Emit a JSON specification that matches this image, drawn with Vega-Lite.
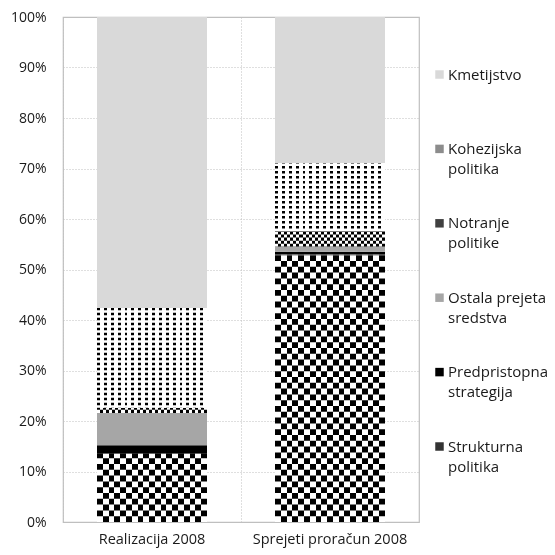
{
  "$schema": "https://vega.github.io/schema/vega-lite/v6.json",
  "width": 356,
  "height": 505,
  "autosize": {"type": "none"},
  "padding": {"left": 63, "top": 17, "right": 136, "bottom": 33},
  "background": "#ffffff",
  "config": {
    "view": {"stroke": "#bfbfbf", "strokeWidth": 1.2},
    "style": {"guide-label": {"lineHeight": 20}}
  },
  "data": {
    "values": [
      {"bar": "Realizacija 2008", "cat": "Strukturna politika", "value": 13.5},
      {"bar": "Realizacija 2008", "cat": "Predpristopna strategija", "value": 1.7},
      {"bar": "Realizacija 2008", "cat": "Ostala prejeta sredstva", "value": 6.4},
      {"bar": "Realizacija 2008", "cat": "Notranje politike", "value": 1.0},
      {"bar": "Realizacija 2008", "cat": "Kohezijska politika", "value": 19.8},
      {"bar": "Realizacija 2008", "cat": "Kmetijstvo", "value": 57.6},
      {"bar": "Sprejeti proračun 2008", "cat": "Strukturna politika", "value": 52.9},
      {"bar": "Sprejeti proračun 2008", "cat": "Predpristopna strategija", "value": 0.6},
      {"bar": "Sprejeti proračun 2008", "cat": "Ostala prejeta sredstva", "value": 1.0},
      {"bar": "Sprejeti proračun 2008", "cat": "Notranje politike", "value": 3.1},
      {"bar": "Sprejeti proračun 2008", "cat": "Kohezijska politika", "value": 13.5},
      {"bar": "Sprejeti proračun 2008", "cat": "Kmetijstvo", "value": 28.9}
    ]
  },
  "transform": [
    {"stack": "value", "groupby": ["bar"], "sort": [{"field": "cat", "order": "descending"}], "offset": "normalize", "as": ["v0", "v1"]}
  ],
  "encoding": {
    "x": {
      "field": "bar", "type": "nominal",
      "scale": {"paddingInner": 0, "paddingOuter": 0},
      "axis": {
        "title": null, "grid": true, "gridDash": [1, 2], "gridColor": "#bfbfbf",
        "bandPosition": 0, "ticks": false, "tickSize": 0, "domain": false,
        "labelAngle": 0, "labelPadding": 10, "labelFont": "Open Sans", "labelFontSize": 14.5,
        "labelColor": "#1a1a1a", "labelBaseline": "top"
      }
    },
    "y": {
      "field": "v0", "type": "quantitative",
      "scale": {"domain": [0, 1], "nice": false},
      "axis": {
        "title": null, "format": "%", "values": [0, 0.1, 0.2, 0.3, 0.4, 0.5, 0.6, 0.7, 0.8, 0.9, 1],
        "grid": true, "gridDash": [1, 2], "gridColor": "#bfbfbf", "ticks": false, "tickSize": 0,
        "domain": false, "labelPadding": 17, "labelFont": "Open Sans", "labelFontSize": 14,
        "labelColor": "#1a1a1a"
      }
    },
    "y2": {"field": "v1"}
  },
  "layer": [
    {
      "mark": {"type": "bar", "size": 110},
      "encoding": {
        "color": {
          "field": "cat", "type": "nominal",
          "scale": {
            "domain": ["Kmetijstvo", "Kohezijska politika", "Notranje politike", "Ostala prejeta sredstva", "Predpristopna strategija", "Strukturna politika"],
            "range": ["#d9d9d9", "#8c8c8c", "#404040", "#a6a6a6", "#000000", "#333333"]
          },
          "legend": {
            "orient": "none", "legendX": 369, "legendY": 50, "title": null,
            "symbolType": "square", "symbolSize": 72, "symbolStrokeWidth": 0,
            "labelFont": "Open Sans", "labelFontSize": 15, "labelColor": "#1a1a1a",
            "labelOffset": 1, "rowPadding": 38.4, "labelLimit": 300,
            "labelExpr": "datum.label == 'Kmetijstvo' ? ['Kmetijstvo', ''] : datum.label == 'Ostala prejeta sredstva' ? ['Ostala prejeta', 'sredstva'] : [split(datum.label, ' ')[0], split(datum.label, ' ')[1]]"
          }
        }
      }
    },
    {
      "transform": [{"filter": "datum.cat == 'Strukturna politika'"}],
      "mark": {
        "type": "bar", "size": 110,
        "fill": {
          "gradient": "linear", "x1": 0, "y1": 0, "x2": 1, "y2": 0,
          "stops": [
            {"offset": 0, "color": "#000"}, {"offset": 0.05263, "color": "#000"},
            {"offset": 0.05263, "color": "#fff"}, {"offset": 0.10526, "color": "#fff"},
            {"offset": 0.10526, "color": "#000"}, {"offset": 0.15789, "color": "#000"},
            {"offset": 0.15789, "color": "#fff"}, {"offset": 0.21053, "color": "#fff"},
            {"offset": 0.21053, "color": "#000"}, {"offset": 0.26316, "color": "#000"},
            {"offset": 0.26316, "color": "#fff"}, {"offset": 0.31579, "color": "#fff"},
            {"offset": 0.31579, "color": "#000"}, {"offset": 0.36842, "color": "#000"},
            {"offset": 0.36842, "color": "#fff"}, {"offset": 0.42105, "color": "#fff"},
            {"offset": 0.42105, "color": "#000"}, {"offset": 0.47368, "color": "#000"},
            {"offset": 0.47368, "color": "#fff"}, {"offset": 0.52632, "color": "#fff"},
            {"offset": 0.52632, "color": "#000"}, {"offset": 0.57895, "color": "#000"},
            {"offset": 0.57895, "color": "#fff"}, {"offset": 0.63158, "color": "#fff"},
            {"offset": 0.63158, "color": "#000"}, {"offset": 0.68421, "color": "#000"},
            {"offset": 0.68421, "color": "#fff"}, {"offset": 0.73684, "color": "#fff"},
            {"offset": 0.73684, "color": "#000"}, {"offset": 0.78947, "color": "#000"},
            {"offset": 0.78947, "color": "#fff"}, {"offset": 0.84211, "color": "#fff"},
            {"offset": 0.84211, "color": "#000"}, {"offset": 0.89474, "color": "#000"},
            {"offset": 0.89474, "color": "#fff"}, {"offset": 0.94737, "color": "#fff"},
            {"offset": 0.94737, "color": "#000"}, {"offset": 1, "color": "#000"}
          ]
        }
      }
    },
    {
      "transform": [{"filter": "datum.cat == 'Strukturna politika'"}],
      "mark": {"type": "rule", "stroke": "#ffffff", "strokeWidth": 110, "strokeDash": [5.8, 5.8], "strokeCap": "butt", "blend": "difference"}
    },
    {
      "transform": [{"filter": "datum.cat == 'Notranje politike'"}],
      "mark": {
        "type": "bar", "size": 110,
        "fill": {
          "gradient": "linear", "x1": 0, "y1": 0, "x2": 1, "y2": 0,
          "stops": [
            {"offset": 0, "color": "#000"}, {"offset": 0.02778, "color": "#000"},
            {"offset": 0.02778, "color": "#fff"}, {"offset": 0.05556, "color": "#fff"},
            {"offset": 0.05556, "color": "#000"}, {"offset": 0.08333, "color": "#000"},
            {"offset": 0.08333, "color": "#fff"}, {"offset": 0.11111, "color": "#fff"},
            {"offset": 0.11111, "color": "#000"}, {"offset": 0.13889, "color": "#000"},
            {"offset": 0.13889, "color": "#fff"}, {"offset": 0.16667, "color": "#fff"},
            {"offset": 0.16667, "color": "#000"}, {"offset": 0.19444, "color": "#000"},
            {"offset": 0.19444, "color": "#fff"}, {"offset": 0.22222, "color": "#fff"},
            {"offset": 0.22222, "color": "#000"}, {"offset": 0.25, "color": "#000"},
            {"offset": 0.25, "color": "#fff"}, {"offset": 0.27778, "color": "#fff"},
            {"offset": 0.27778, "color": "#000"}, {"offset": 0.30556, "color": "#000"},
            {"offset": 0.30556, "color": "#fff"}, {"offset": 0.33333, "color": "#fff"},
            {"offset": 0.33333, "color": "#000"}, {"offset": 0.36111, "color": "#000"},
            {"offset": 0.36111, "color": "#fff"}, {"offset": 0.38889, "color": "#fff"},
            {"offset": 0.38889, "color": "#000"}, {"offset": 0.41667, "color": "#000"},
            {"offset": 0.41667, "color": "#fff"}, {"offset": 0.44444, "color": "#fff"},
            {"offset": 0.44444, "color": "#000"}, {"offset": 0.47222, "color": "#000"},
            {"offset": 0.47222, "color": "#fff"}, {"offset": 0.5, "color": "#fff"},
            {"offset": 0.5, "color": "#000"}, {"offset": 0.52778, "color": "#000"},
            {"offset": 0.52778, "color": "#fff"}, {"offset": 0.55556, "color": "#fff"},
            {"offset": 0.55556, "color": "#000"}, {"offset": 0.58333, "color": "#000"},
            {"offset": 0.58333, "color": "#fff"}, {"offset": 0.61111, "color": "#fff"},
            {"offset": 0.61111, "color": "#000"}, {"offset": 0.63889, "color": "#000"},
            {"offset": 0.63889, "color": "#fff"}, {"offset": 0.66667, "color": "#fff"},
            {"offset": 0.66667, "color": "#000"}, {"offset": 0.69444, "color": "#000"},
            {"offset": 0.69444, "color": "#fff"}, {"offset": 0.72222, "color": "#fff"},
            {"offset": 0.72222, "color": "#000"}, {"offset": 0.75, "color": "#000"},
            {"offset": 0.75, "color": "#fff"}, {"offset": 0.77778, "color": "#fff"},
            {"offset": 0.77778, "color": "#000"}, {"offset": 0.80556, "color": "#000"},
            {"offset": 0.80556, "color": "#fff"}, {"offset": 0.83333, "color": "#fff"},
            {"offset": 0.83333, "color": "#000"}, {"offset": 0.86111, "color": "#000"},
            {"offset": 0.86111, "color": "#fff"}, {"offset": 0.88889, "color": "#fff"},
            {"offset": 0.88889, "color": "#000"}, {"offset": 0.91667, "color": "#000"},
            {"offset": 0.91667, "color": "#fff"}, {"offset": 0.94444, "color": "#fff"},
            {"offset": 0.94444, "color": "#000"}, {"offset": 0.97222, "color": "#000"},
            {"offset": 0.97222, "color": "#fff"}, {"offset": 1, "color": "#fff"}
          ]
        }
      }
    },
    {
      "transform": [{"filter": "datum.cat == 'Notranje politike'"}],
      "mark": {"type": "rule", "stroke": "#ffffff", "strokeWidth": 110, "strokeDash": [3.05, 3.05], "strokeCap": "butt", "blend": "difference"}
    },
    {
      "transform": [{"filter": "datum.cat == 'Kohezijska politika'"}],
      "mark": {
        "type": "bar", "size": 110,
        "fill": {
          "gradient": "linear", "x1": 0, "y1": 0, "x2": 1, "y2": 0,
          "stops": [
            {"offset": 0, "color": "#000"}, {"offset": 0.02625, "color": "#000"}, {"offset": 0.02625, "color": "#fff"}, {"offset": 0.0625, "color": "#fff"},
            {"offset": 0.0625, "color": "#000"}, {"offset": 0.08875, "color": "#000"}, {"offset": 0.08875, "color": "#fff"}, {"offset": 0.125, "color": "#fff"},
            {"offset": 0.125, "color": "#000"}, {"offset": 0.15125, "color": "#000"}, {"offset": 0.15125, "color": "#fff"}, {"offset": 0.1875, "color": "#fff"},
            {"offset": 0.1875, "color": "#000"}, {"offset": 0.21375, "color": "#000"}, {"offset": 0.21375, "color": "#fff"}, {"offset": 0.25, "color": "#fff"},
            {"offset": 0.25, "color": "#000"}, {"offset": 0.27625, "color": "#000"}, {"offset": 0.27625, "color": "#fff"}, {"offset": 0.3125, "color": "#fff"},
            {"offset": 0.3125, "color": "#000"}, {"offset": 0.33875, "color": "#000"}, {"offset": 0.33875, "color": "#fff"}, {"offset": 0.375, "color": "#fff"},
            {"offset": 0.375, "color": "#000"}, {"offset": 0.40125, "color": "#000"}, {"offset": 0.40125, "color": "#fff"}, {"offset": 0.4375, "color": "#fff"},
            {"offset": 0.4375, "color": "#000"}, {"offset": 0.46375, "color": "#000"}, {"offset": 0.46375, "color": "#fff"}, {"offset": 0.5, "color": "#fff"},
            {"offset": 0.5, "color": "#000"}, {"offset": 0.52625, "color": "#000"}, {"offset": 0.52625, "color": "#fff"}, {"offset": 0.5625, "color": "#fff"},
            {"offset": 0.5625, "color": "#000"}, {"offset": 0.58875, "color": "#000"}, {"offset": 0.58875, "color": "#fff"}, {"offset": 0.625, "color": "#fff"},
            {"offset": 0.625, "color": "#000"}, {"offset": 0.65125, "color": "#000"}, {"offset": 0.65125, "color": "#fff"}, {"offset": 0.6875, "color": "#fff"},
            {"offset": 0.6875, "color": "#000"}, {"offset": 0.71375, "color": "#000"}, {"offset": 0.71375, "color": "#fff"}, {"offset": 0.75, "color": "#fff"},
            {"offset": 0.75, "color": "#000"}, {"offset": 0.77625, "color": "#000"}, {"offset": 0.77625, "color": "#fff"}, {"offset": 0.8125, "color": "#fff"},
            {"offset": 0.8125, "color": "#000"}, {"offset": 0.83875, "color": "#000"}, {"offset": 0.83875, "color": "#fff"}, {"offset": 0.875, "color": "#fff"},
            {"offset": 0.875, "color": "#000"}, {"offset": 0.90125, "color": "#000"}, {"offset": 0.90125, "color": "#fff"}, {"offset": 0.9375, "color": "#fff"},
            {"offset": 0.9375, "color": "#000"}, {"offset": 0.96375, "color": "#000"}, {"offset": 0.96375, "color": "#fff"}, {"offset": 1, "color": "#fff"}
          ]
        }
      }
    },
    {
      "transform": [{"filter": "datum.cat == 'Kohezijska politika'"}],
      "mark": {"type": "rule", "stroke": "#ffffff", "strokeWidth": 110, "strokeDash": [2.5, 2.5], "strokeCap": "butt"}
    }
  ]
}
